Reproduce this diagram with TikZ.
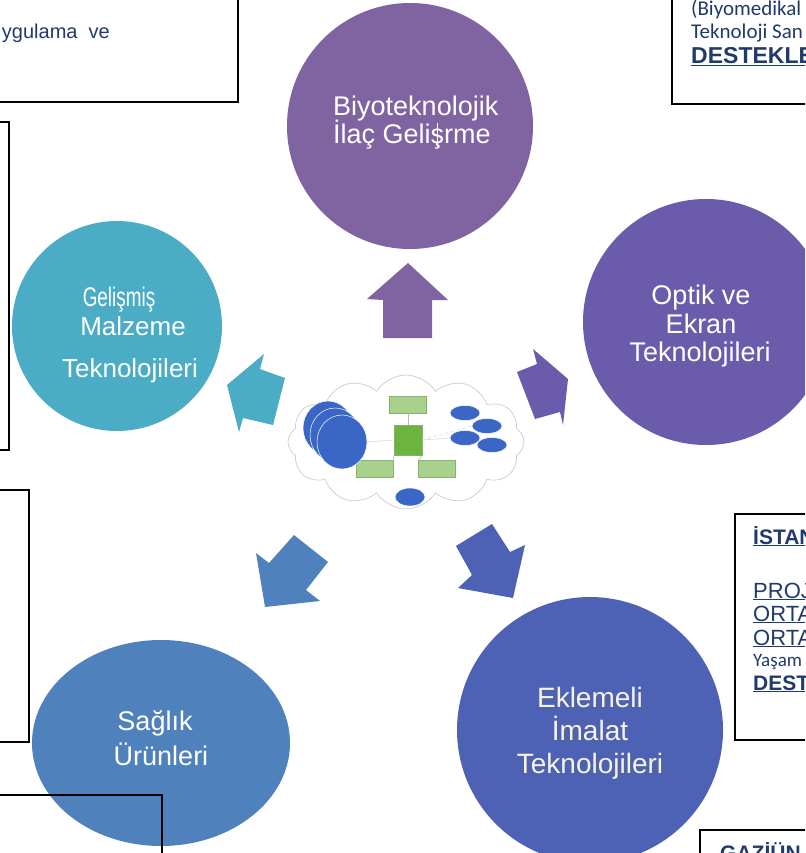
\documentclass[tikz,border=0pt]{standalone}
\usepackage{fontspec}
\setmainfont{Liberation Sans}
\newfontfamily\calib{Carlito}
\usetikzlibrary{shapes.symbols,shapes.geometric}

\definecolor{cBio}{HTML}{8064A2}
\definecolor{cOpt}{HTML}{6A5CAB}
\definecolor{cTeal}{HTML}{4BACC6}
\definecolor{cHealth}{HTML}{4F81BD}
\definecolor{cAdd}{HTML}{4D62B4}
\definecolor{cNavy}{HTML}{1F3A6B}
\definecolor{cDot}{HTML}{3A67C6}
\definecolor{cLeaf}{HTML}{A9D18E}
\definecolor{cLeafLine}{HTML}{86B36A}
\definecolor{cCore}{HTML}{6DB33F}

% a broken "şt" glyph as it is printed in the title
\newcommand{\brokenst}{\ooalign{ş\cr\hidewidth\rule[-0.12em]{0.07em}{0.88em}\hidewidth}}
\newcommand{\fsz}[1]{\fontsize{#1}{#1}\selectfont}

\begin{document}
\begin{tikzpicture}[x=1pt,y=-1pt,
  topic/.style={circle,inner sep=0pt,draw=none},
  ctext/.style={text=white,inner sep=0pt,font=\fsz{27}},
  frame/.style={draw=black,line width=1.4pt},
  btext/.style={text=cNavy,inner sep=0pt,anchor=base west},
  leaf/.style={rectangle,fill=cLeaf,draw=cLeafLine,line width=0.5pt,minimum width=37pt,minimum height=17pt,inner sep=0pt},
  dot/.style={ellipse,fill=cDot,draw=white,line width=0.5pt,inner sep=0pt},
  link/.style={draw=gray!55,line width=0.6pt}]
\useasboundingbox (0,0) rectangle (805,853);
\begin{scope}
\clip (0,0) rectangle (805,853);

% ---- topic discs ----
\node[topic,fill=cBio,minimum size=246pt] (bio) at (410,126) {};
\node[topic,fill=cOpt,minimum size=246pt] (opt) at (706,322) {};
\node[topic,fill=cTeal,minimum size=210pt] (mat) at (117,326) {};
\node[ellipse,inner sep=0pt,fill=cHealth,minimum width=258pt,minimum height=206pt] (hea) at (161,743) {};
\node[topic,fill=cAdd,minimum size=266pt] (add) at (590,730) {};

% ---- disc captions ----
\node[ctext,anchor=base west] (bio1) at (333,116) {Biyoteknolojik};
\node[ctext,anchor=base west] (bio2) at (333,144) {İlaç Geli\brokenst rme};

\node[ctext,anchor=base] (opt1) at (701,304) {Optik ve};
\node[ctext,anchor=base] (opt2) at (701,333) {Ekran};
\node[ctext,anchor=base] (opt3) at (700,361) {Teknolojileri};

\node[ctext,anchor=base] (mat1) at (119,306) {\scalebox{0.7}[1]{\fsz{27}Gelişmiş}};
\node[ctext,anchor=base,font=\fsz{26}] (mat2) at (133,335) {Malzeme};
\node[ctext,anchor=base,font=\fsz{26}] (mat3) at (130,377) {Teknolojileri};

\node[ctext,anchor=base] (hea1) at (155,730) {Sağlık};
\node[ctext,anchor=base] (hea2) at (161,765) {Ürünleri};

\foreach \t/\y/\n in {Eklemeli/707/add1,İmalat/740/add2,Teknolojileri/773/add3}{
  \node[text=black!60,opacity=0.55,inner sep=0pt,anchor=base,font=\fsz{28}] at (591.2,\y+1.2) {\t};
  \node[text=white!92!cAdd,inner sep=0pt,anchor=base,font=\fsz{28}] (\n) at (590,\y) {\t};
}

% ---- block arrows around the hub ----
\fill[cBio] (408,263) -- (448,300) -- (432,300) -- (432,338) -- (383,338) -- (383,300) -- (367,299) -- cycle;
\fill[cOpt] (568,379) -- (533,349) -- (537,364) -- (517,372) -- (535,419) -- (560,412) -- (563,425) -- cycle;
\fill[cTeal] (227,385) -- (264,354) -- (260,369) -- (285,378) -- (273,425) -- (243,418) -- (239,432) -- cycle;
\fill[cHealth] (265,607) -- (320,601) -- (306,590) -- (328,562) -- (294,535) -- (269,563) -- (256,553) -- cycle;
\fill[cAdd] (513,598) -- (525,545) -- (510,552) -- (492,524) -- (456,546) -- (472,575) -- (458,588) -- cycle;

% ---- hub cloud with its small network ----
\node[cloud,cloud puffs=12,cloud puff arc=115,aspect=1.75,draw=gray!40,fill=white,line width=0.7pt,
      minimum width=236pt,minimum height=134pt,inner sep=0pt] (hub) at (406,442) {};
\node[rectangle,fill=cCore,draw=cLeafLine,minimum width=28pt,minimum height=30pt,inner sep=0pt] (core) at (408,440) {};
\node[leaf] (lt) at (408,405) {};
\node[leaf] (lbl) at (375,469) {};
\node[leaf] (lbr) at (437,469) {};
\draw[link] (core) -- (lt);
\draw[link] (core.south west) -- (lbl.north east);
\draw[link] (core.south east) -- (lbr.north west);
\node[dot,minimum width=50pt,minimum height=54pt] (b1) at (328,428) {};
\node[dot,minimum width=50pt,minimum height=54pt] (b2) at (335,435) {};
\node[dot,minimum width=50pt,minimum height=54pt] (b3) at (342,442) {};
\node[dot,minimum width=30pt,minimum height=15pt] (e1) at (465,413) {};
\node[dot,minimum width=30pt,minimum height=15pt] (e2) at (487,426) {};
\node[dot,minimum width=30pt,minimum height=15pt] (e3) at (465,438) {};
\node[dot,minimum width=30pt,minimum height=15pt] (e4) at (492,445) {};
\node[dot,minimum width=30pt,minimum height=18pt] (e5) at (410,497) {};
\draw[link,draw=gray!30,dashed] (core.east) -- (e2.west);
\draw[link,draw=gray!30] (core.east) -- (e3.west);
\draw[link,draw=gray!30] (b3.east) -- (core.west);

% ---- partly visible text frames ----
\draw[frame] (-10,-10) rectangle (238,102);
\node[btext,anchor=base east,font=\fsz{20}] (tl) at (110,39) {ygulama\ \ ve};

\draw[frame] (672,-10) rectangle (820,104);
\node[btext,font=\calib\fsz{21}] (tr1) at (691,16) {(Biyomedikal};
\node[btext,font=\calib\fsz{21}] (tr2) at (691,39) {Teknoloji San};
\node[btext,font=\bfseries\fsz{23}] (tr3) at (691,64) {\underline{DESTEKLE}};

\draw[frame] (-10,122) rectangle (9,450);
\draw[frame] (-10,490) rectangle (29,742);
\draw[frame] (-10,795) rectangle (162,870);

\draw[frame] (735,514) rectangle (820,740);
\node[btext,font=\bfseries\fsz{21}] (r1) at (753,544) {\underline{İSTAN}};
\node[btext,font=\fsz{22}] (r2) at (753,598) {\underline{PROJ}};
\node[btext,font=\fsz{22}] (r3) at (753,621) {\underline{ORTA}};
\node[btext,font=\fsz{22}] (r4) at (753,645) {\underline{ORTA}};
\node[btext,font=\calib\fsz{19}] (r5) at (753,666) {Yaşam};
\node[btext,font=\bfseries\fsz{21}] (r6) at (753,690) {\underline{DEST}};

\draw[frame] (700,830) rectangle (820,870);
\node[btext,font=\bfseries\fsz{21}] (br) at (720,860) {GAZİÜN};
\end{scope}
\end{tikzpicture}
\end{document}
